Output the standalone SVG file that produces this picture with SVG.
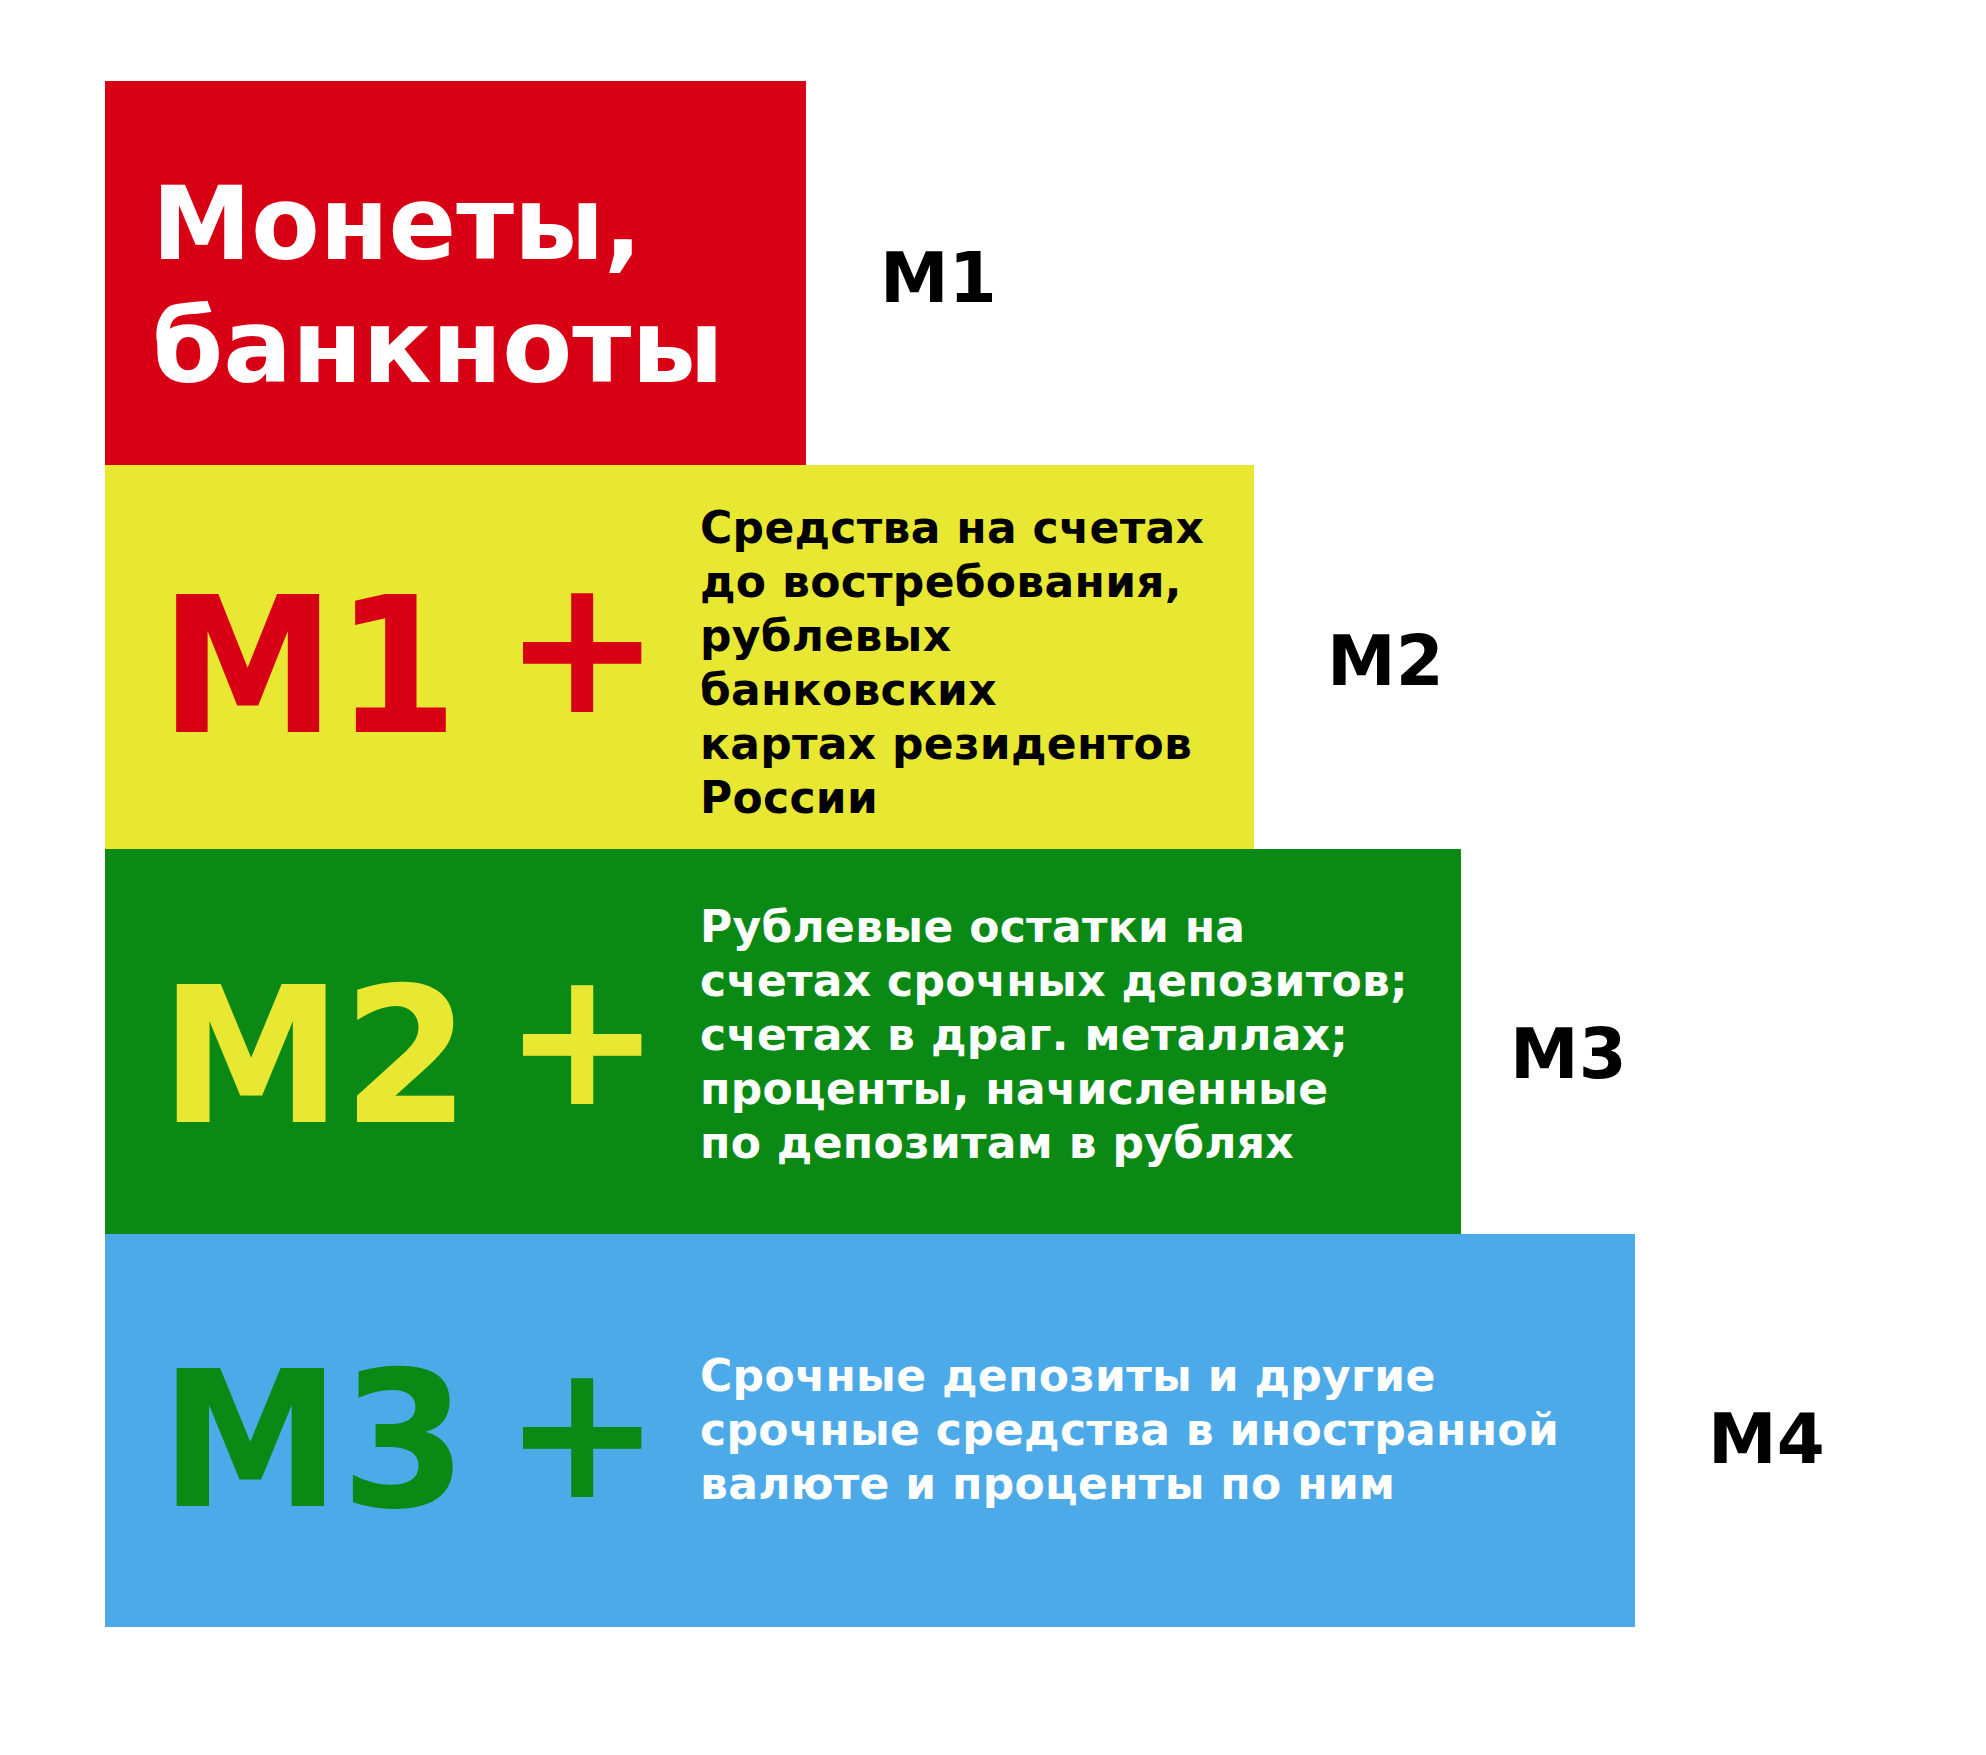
<svg xmlns="http://www.w3.org/2000/svg" width="1986" height="1755" viewBox="0 0 1986 1755">
<style>
text{font-family:"DejaVu Sans","Verdana",sans-serif;font-weight:bold}
.big{font-size:189px}
.title{font-size:102px;fill:#fff}
.lab{font-size:69px;fill:#000}
.para{font-size:44px;letter-spacing:0.3px}
</style>
<rect width="1986" height="1755" fill="#fff"/>
<g id="m1-block">
<rect x="105" y="81" width="701" height="384" fill="#d80014"/>
<text class="title" x="152" y="259" textLength="490" lengthAdjust="spacingAndGlyphs">Монеты,</text>
<text class="title" x="152" y="382">банкноты</text>
</g>
<g id="m2-block">
<rect x="105" y="465" width="1149" height="384" fill="#e8e833"/>
<text class="big" x="160" y="732" fill="#d80014" textLength="298" lengthAdjust="spacingAndGlyphs">M1</text>
<text class="big" x="503" y="712" fill="#d80014">+</text>
<text class="para" fill="#000">
<tspan x="700" y="543">Средства на счетах</tspan>
<tspan x="700" y="597">до востребования,</tspan>
<tspan x="700" y="651">рублевых</tspan>
<tspan x="700" y="705">банковских</tspan>
<tspan x="700" y="759">картах резидентов</tspan>
<tspan x="700" y="813">России</tspan>
</text>
</g>
<g id="m3-block">
<rect x="105" y="849" width="1356" height="385" fill="#0a8a14"/>
<text class="big" x="160" y="1122" fill="#e8e833" textLength="310" lengthAdjust="spacingAndGlyphs">M2</text>
<text class="big" x="503" y="1104" fill="#e8e833">+</text>
<text class="para" fill="#fff">
<tspan x="700" y="942">Рублевые остатки на</tspan>
<tspan x="700" y="996">счетах срочных депозитов;</tspan>
<tspan x="700" y="1050">счетах в драг. металлах;</tspan>
<tspan x="700" y="1104">проценты, начисленные</tspan>
<tspan x="700" y="1158">по депозитам в рублях</tspan>
</text>
</g>
<g id="m4-block">
<rect x="105" y="1234" width="1530" height="393" fill="#4daae8"/>
<text class="big" x="160" y="1506" fill="#0a8a14" textLength="307" lengthAdjust="spacingAndGlyphs">M3</text>
<text class="big" x="503" y="1497" fill="#0a8a14">+</text>
<text class="para" fill="#fff">
<tspan x="700" y="1391">Срочные депозиты и другие</tspan>
<tspan x="700" y="1445">срочные средства в иностранной</tspan>
<tspan x="700" y="1499">валюте и проценты по ним</tspan>
</text>
</g>
<g id="labels">
<text class="lab" x="880" y="302">M1</text>
<text class="lab" x="1327" y="685">M2</text>
<text class="lab" x="1510" y="1078">M3</text>
<text class="lab" x="1708" y="1463">M4</text>
</g>
<g id="connectors"/>
</svg>
